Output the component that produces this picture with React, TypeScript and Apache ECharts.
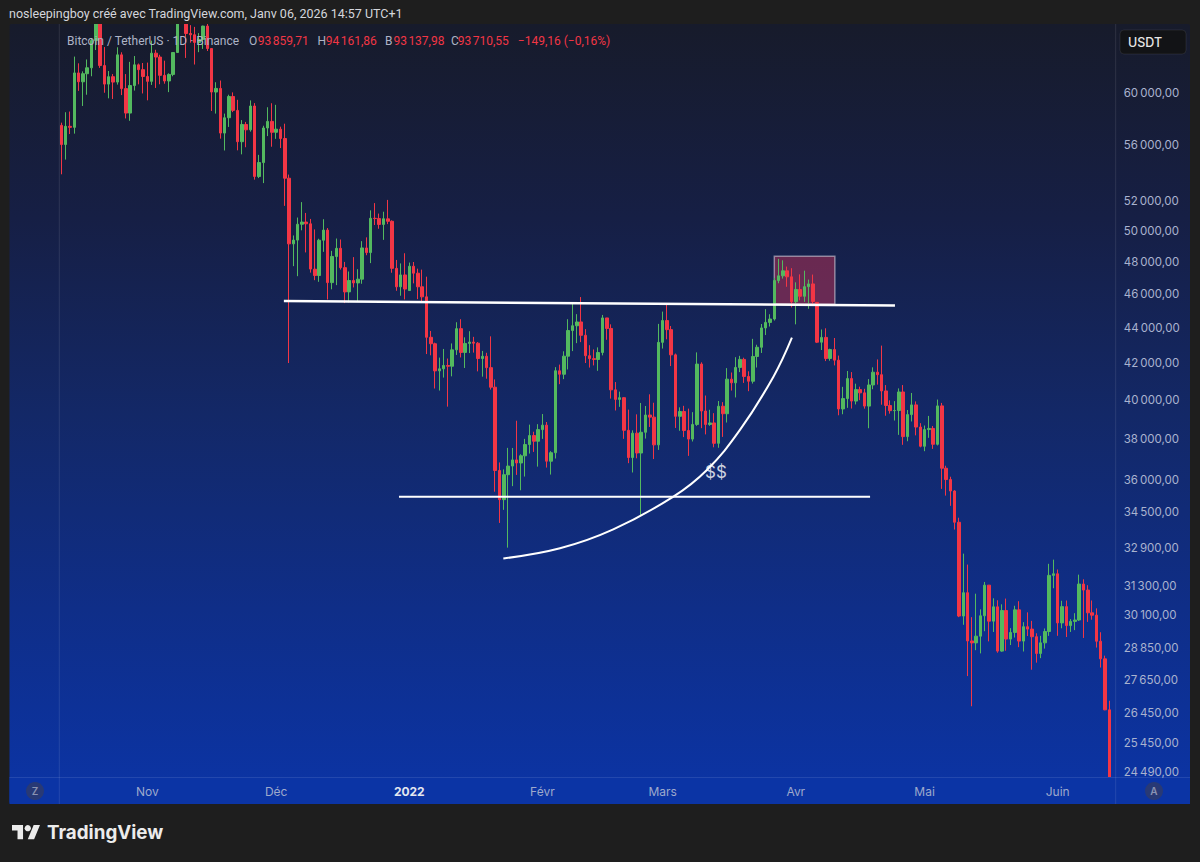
import React, { useEffect, useRef } from "react";
import * as echarts from "echarts";

// Daily BTC/USDT candles, each row [open, high, low, close]
const oct2021 = [
  [57474, 57680, 53879, 56041], [56041, 58478, 54936, 57401], [57401, 58532, 56818, 57321], [57321, 62933, 56850, 61593],
  [61593, 62378, 60150, 60875], [60875, 61718, 58963, 61528], [61528, 62695, 59844, 62010], [62010, 64486, 61322, 64280],
  [64280, 67000, 63481, 66002], [66002, 66639, 62000, 62193], [62193, 63732, 60000, 60689], [60689, 61747, 59562, 61287],
  [61287, 61500, 59510, 60852], [60852, 63711, 60650, 63079], [63079, 63293, 59817, 60329], [60329, 61497, 58000, 58413],
  [58413, 62499, 57820, 60575], [60575, 62980, 60174, 62253], [62253, 62359, 60673, 61859], [61859, 62405, 59945, 61300],
];
const nov2021 = [
  [61300, 62437, 59405, 60911], [60911, 64270, 60624, 63219], [63220, 63500, 60382, 62896], [62896, 63086, 60677, 61395],
  [61395, 62595, 60721, 60937], [60941, 61560, 60050, 61470], [61470, 63286, 61322, 63273], [63273, 67789, 63273, 67525],
  [67525, 68525, 66382, 66947], [66947, 69000, 62822, 64882], [64882, 65600, 64100, 64774], [64774, 65450, 62278, 64122],
  [64123, 64915, 63303, 64380], [64380, 65550, 63576, 65519], [65519, 66401, 63400, 63606], [63606, 63617, 58574, 60058],
  [60058, 60840, 58373, 60345], [60345, 60977, 56474, 56892], [56891, 58372, 55600, 58052], [58057, 59845, 57353, 59707],
  [59707, 60029, 58486, 58622], [58617, 59444, 55610, 56247], [56247, 57875, 55317, 57541], [57541, 57735, 55837, 57138],
  [57138, 59398, 57000, 58960], [58960, 59186, 53500, 53726], [53723, 55280, 53610, 54721], [54716, 57445, 53256, 57274],
  [57274, 58865, 56666, 57776], [57776, 59176, 55875, 56950],
];
const dec2021 = [
  [56950, 59053, 56458, 57184], [57184, 57375, 55777, 56480], [56485, 57600, 51680, 53601], [53601, 53859, 42000, 49152],
  [49152, 49699, 47727, 49396], [49397, 50890, 47100, 50441], [50441, 51936, 50039, 50588], [50589, 51200, 48600, 50471],
  [50471, 50797, 47320, 47545], [47535, 50100, 46852, 47140], [47140, 49485, 46751, 49389], [49389, 50777, 48638, 50053],
  [50053, 50189, 45672, 46702], [46702, 48700, 46290, 48343], [48336, 49500, 46547, 48864], [48864, 49436, 47511, 47632],
  [47633, 47995, 45456, 46131], [46134, 47392, 45500, 46834], [46834, 48300, 46406, 46681], [46681, 47537, 45558, 46914],
  [46914, 49328, 46630, 48889], [48887, 49576, 48421, 48588], [48588, 51375, 47920, 50839], [50839, 51869, 50390, 50821],
  [50822, 51156, 50142, 50429], [50429, 51281, 49412, 50809], [50802, 52088, 50449, 50640], [50640, 50704, 47313, 47589],
  [47588, 48120, 46201, 46444], [46444, 47900, 45900, 47179], [47178, 48548, 45678, 46306],
];
const jan2022 = [
  [46216, 47954, 46208, 47722], [47722, 47990, 46654, 47286], [47286, 47570, 45696, 46446], [46446, 47510, 45500, 45833],
  [45833, 47070, 42500, 43451], [43451, 43816, 42430, 43082], [43082, 43145, 40610, 41566], [41567, 42300, 40501, 41680],
  [41680, 42786, 41200, 41864], [41864, 42248, 39650, 41822], [41822, 43100, 41268, 42735], [42735, 44322, 42450, 43949],
  [43949, 44500, 42311, 42591], [42591, 43448, 41725, 43099], [43099, 43800, 42555, 43177], [43177, 43476, 42581, 43113],
  [43113, 43179, 41540, 42250], [42250, 42675, 41250, 42375], [42375, 42571, 41138, 41744], [41744, 43505, 40553, 40680],
  [40680, 41100, 35440, 36445], [36445, 36835, 34008, 35071], [35071, 36499, 34601, 36244], [36244, 37550, 32917, 36660],
  [36660, 37545, 35701, 36958], [36958, 38919, 36234, 36809], [36809, 37234, 35507, 37160], [37160, 38000, 36155, 37716],
  [37716, 38720, 37268, 38166], [38166, 38359, 37351, 37881], [37881, 38744, 36632, 38466],
];
const feb2022 = [
  [38466, 39265, 38000, 38694], [38694, 38855, 36586, 36896], [36896, 37387, 36250, 37311], [37311, 41772, 37026, 41574],
  [41571, 41913, 40843, 41382], [41382, 42656, 41116, 42380], [42380, 44500, 41645, 43840], [43839, 45492, 42666, 44118],
  [44118, 44798, 43117, 44338], [44339, 45821, 43174, 43565], [43565, 43920, 42000, 42407], [42407, 43000, 41748, 42244],
  [42244, 42760, 41867, 42197], [42197, 42876, 41570, 42586], [42586, 44751, 42427, 44575], [44575, 44579, 43307, 43961],
  [43961, 44200, 40073, 40538], [40538, 40959, 39450, 40031], [40031, 40444, 39639, 40122], [40122, 40150, 38000, 38431],
  [38431, 39494, 36800, 37075], [37075, 38429, 36350, 38286], [38286, 39249, 37036, 37296], [37296, 39843, 34322, 38332],
  [38332, 39683, 38014, 39214], [39214, 40300, 38600, 39105], [39105, 39855, 37000, 37699], [37699, 44225, 37450, 43160],
];
const mar2022 = [
  [43160, 44949, 42809, 44421], [44421, 45400, 43334, 43892], [43892, 44101, 41832, 42454], [42454, 42527, 38550, 39148],
  [39148, 39613, 38407, 39397], [39397, 39693, 38088, 38420], [38420, 39547, 37155, 37988], [37988, 39362, 37867, 38730],
  [38730, 42594, 38656, 41941], [41941, 42039, 38539, 39422], [39422, 40236, 38224, 38729], [38729, 39486, 38660, 38807],
  [38807, 39310, 37578, 37777], [37777, 39947, 37555, 39671], [39671, 39887, 38098, 39280], [39280, 41718, 38828, 41114],
  [41115, 41478, 40500, 40917], [40917, 42325, 40135, 41757], [41757, 42400, 41499, 42201], [42201, 42296, 40911, 41262],
  [41262, 41544, 40467, 41002], [41002, 43361, 40875, 42364], [42364, 43025, 41751, 42882], [42882, 44220, 42560, 43991],
  [43991, 45094, 43579, 44313], [44313, 44792, 44072, 44511], [44511, 46999, 44422, 46827], [46827, 48190, 46663, 47122],
  [47122, 48096, 46950, 47434], [47434, 47700, 46445, 47062], [47062, 47600, 45200, 45538],
];
const apr2022 = [
  [45539, 46720, 44200, 46281], [46281, 47213, 45620, 45868], [45868, 47444, 45530, 46453], [46453, 46890, 45118, 46622],
  [46622, 47200, 45353, 45555], [45497, 45507, 43121, 43170], [43170, 43900, 42727, 43444], [43444, 43970, 42107, 42252],
  [42252, 42800, 42125, 42753], [42753, 43410, 41868, 42158], [42158, 42414, 39200, 39530], [39530, 40699, 39254, 40074],
  [40074, 41561, 39588, 41147], [41147, 41500, 39551, 39942], [39942, 40870, 39766, 40552], [40552, 40709, 39991, 40378],
  [40378, 40595, 39546, 39678], [39678, 41116, 38536, 40801], [40801, 41760, 40571, 41493], [41493, 42199, 40820, 41358],
  [41358, 42976, 39751, 40480], [40480, 40795, 39177, 39709], [39709, 39980, 39285, 39441], [39441, 39940, 38929, 39450],
  [39450, 40616, 38200, 40426], [40426, 40797, 37702, 38112], [38112, 39474, 37881, 39235], [39235, 40372, 38881, 39742],
  [39742, 39925, 38175, 38596], [38596, 38795, 37578, 37630],
];
const may2022 = [
  [37630, 38675, 37386, 38468], [38468, 39167, 38052, 38525], [38525, 38651, 37500, 37729], [37729, 40023, 37670, 39690],
  [39690, 39845, 35571, 36553], [36553, 36675, 35258, 36013], [36013, 36146, 34785, 35472], [35472, 35510, 33713, 34038],
  [34038, 34243, 30033, 30076], [30076, 32658, 29730, 31017], [31017, 32190, 27785, 29103], [29103, 30032, 26700, 29029],
  [29029, 30976, 28751, 29287], [29287, 30343, 28630, 30086], [30086, 31460, 29480, 31328], [31328, 31328, 29087, 29874],
  [29874, 30788, 29450, 30444], [30444, 30709, 28654, 28716], [28716, 30545, 28691, 30296], [30296, 30777, 28730, 29175],
  [29175, 29600, 28947, 29432], [29432, 30487, 29235, 30323], [30323, 30670, 28866, 29098], [29098, 29834, 28701, 29655],
  [29655, 30223, 29294, 29562], [29562, 29886, 28019, 29267], [29267, 29400, 28282, 28628], [28628, 29300, 28450, 29031],
  [29031, 29587, 28811, 29468], [29468, 32222, 29299, 31734], [31734, 32400, 31200, 31801],
];
const jun2022 = [
  [31801, 31982, 29301, 29805], [29805, 30689, 29594, 30452], [30452, 30699, 29255, 29700], [29700, 29955, 29451, 29864],
  [29864, 30189, 29522, 29919], [29919, 31765, 29880, 31373], [31373, 31570, 29218, 31125], [31125, 31326, 29844, 30205],
  [30205, 30700, 29930, 30110], [30110, 30383, 28850, 29092], [29092, 29440, 28100, 28424], [28424, 28544, 26560, 26574],
  [26574, 26895, 22600, 22487],
];

const firstDay = "2021-10-12";
const trailingEmptyDays = 1;

// month label text by month number (January shows the year)
const monthLabels: Record<number, string> = {
  1: "YEAR", 2: "Févr", 3: "Mars", 4: "Avr", 5: "Mai", 6: "Juin",
  7: "Juil", 8: "Août", 9: "Sept", 10: "Oct", 11: "Nov", 12: "Déc",
};

// price-axis tick labels
const priceTicks = [60000, 56000, 52000, 50000, 48000, 46000, 44000, 42000, 40000, 38000,
  36000, 34500, 32900, 31300, 30100, 28850, 27650, 26450, 25450, 24490];
const priceMin = 24320;
const priceMax = 65700;

// annotations, in [day index from first candle, price]
const resistanceLine = [[51.8, 45580], [194.1, 45310]];
const supportLine = [[78.6, 35210], [188.3, 35210]];
const curvePoints = [[102.9, 32450], [116.1, 32890], [128.5, 33720], [142.5, 35210], [150.3, 36470],
  [158.0, 38450], [165.8, 41250], [170.1, 43430]];
const boxCorners = [[166.0, 48350], [180.1, 45380]];
const dollarNote = [152.4, 36370];

const UP = "#53b95f";
const DOWN = "#f23645";
const FONT = "Inter, 'Noto Sans', sans-serif";
const FONT2 = "Roboto, 'Noto Sans', sans-serif";

const fmtPrice = (v: number) =>
  Math.round(v).toString().replace(/\B(?=(\d{3})+(?!\d))/g, "\u202f") + ",00";

export default function App() {
  const ref = useRef<HTMLDivElement>(null);

  useEffect(() => {
    if (!ref.current) return;
    const chart = echarts.init(ref.current, undefined, { renderer: "svg" });

    const ohlc = [...oct2021, ...nov2021, ...dec2021, ...jan2022, ...feb2022, ...mar2022, ...apr2022, ...may2022, ...jun2022];
    const t0 = Date.parse(firstDay + "T00:00:00Z");
    const categories: string[] = ohlc.map((_, i) => new Date(t0 + i * 86400000).toISOString().slice(0, 10));
    for (let k = 0; k < trailingEmptyDays; k++) categories.push("");
    const nCat = categories.length;
    const candleData = ohlc.map(([o, h, l, c]) => [o, c, l, h]);

    const gridLeft = 59.3, gridRight = 1115.7, gridTop = 24, gridBottom = 777;

    const bg = new echarts.graphic.LinearGradient(0, 0, 0, 1, [
      { offset: 0, color: "#171b2b" },
      { offset: 0.25, color: "#161f45" },
      { offset: 0.5, color: "#132867" },
      { offset: 0.75, color: "#0f2e88" },
      { offset: 1, color: "#0b34a6" },
    ]);

    const divider = "rgba(255,255,255,0.10)";
    const legendY = 41;
    const legendParts: [number, string, string][] = [
      [67, "Bitcoin / TetherUS · 1D · Binance", "#aeb4c6"],
      [249, "O", "#aeb4c6"], [257.7, "93\u202f859,71", DOWN],
      [317.4, "H", "#aeb4c6"], [325.7, "94\u202f161,86", DOWN],
      [385, "B", "#aeb4c6"], [393.4, "93\u202f137,98", DOWN],
      [451, "C", "#aeb4c6"], [457.7, "93\u202f710,55", DOWN],
      [517.8, "\u2212149,16 (\u22120,16%)", DOWN],
    ];

    const s = 28 / 35.5;
    const lx = 12, ly = 825 - 4 * s;
    const P = (x: number, y: number) => [lx + x * s, ly + y * s];

    const graphics: any[] = [
      { type: "rect", z: -5, silent: true, shape: { x: 9.5, y: gridTop, width: 1180.5, height: 804 - gridTop, r: 2 }, style: { fill: bg } },
      // covers that trim candles overflowing the plot
      { type: "rect", z: 8, silent: true, shape: { x: 0, y: 0, width: 1200, height: gridTop }, style: { fill: "#1e1e1e" } },
      { type: "rect", z: 8, silent: true, shape: { x: 9.5, y: gridBottom, width: 1180.5, height: 804 - gridBottom }, style: { fill: "#0b34a5" } },
      { type: "rect", z: 8, silent: true, shape: { x: 0, y: 804, width: 1200, height: 58 }, style: { fill: "#1e1e1e" } },
      { type: "line", z: 9, silent: true, shape: { x1: gridLeft, y1: gridTop, x2: gridLeft, y2: 804 }, style: { stroke: divider, lineWidth: 1 } },
      { type: "line", z: 9, silent: true, shape: { x1: gridRight, y1: gridTop, x2: gridRight, y2: 804 }, style: { stroke: divider, lineWidth: 1 } },
      { type: "line", z: 9, silent: true, shape: { x1: 9.5, y1: gridBottom + 0.5, x2: 1190, y2: gridBottom + 0.5 }, style: { stroke: divider, lineWidth: 1 } },
      { type: "circle", z: 10, silent: true, shape: { cx: 35, cy: 791, r: 9 }, style: { fill: "rgba(60,62,85,0.6)" } },
      { type: "text", z: 11, silent: true, x: 35, y: 791, style: { text: "Z", fill: "#8a93b3", font: `600 10px ${FONT}`, align: "center", verticalAlign: "middle" } },
      { type: "circle", z: 10, silent: true, shape: { cx: 1154, cy: 791, r: 9 }, style: { fill: "rgba(60,62,85,0.6)" } },
      { type: "text", z: 11, silent: true, x: 1154, y: 791, style: { text: "A", fill: "#8a93b3", font: `600 10px ${FONT}`, align: "center", verticalAlign: "middle" } },
      { type: "rect", z: 10, silent: true, shape: { x: 1120, y: 30, width: 66, height: 24, r: 4 }, style: { fill: "#121316", stroke: "rgba(255,255,255,0.08)", lineWidth: 1 } },
      { type: "text", z: 11, silent: true, x: 1128, y: 42, style: { text: "USDT", fill: "#e6e6e6", font: `500 12.5px ${FONT}`, verticalAlign: "middle" } },
      { type: "text", z: 11, silent: true, x: 9, y: 13, style: { text: "nosleepingboy créé avec TradingView.com, Janv 06, 2026 14:57 UTC+1", fill: "#d4d6dc", font: `12.5px ${FONT2}`, verticalAlign: "middle" } },
      ...legendParts.map(([x, t, c]) => ({
        type: "text", z: 11, silent: true, x, y: legendY,
        style: { text: t, fill: c, font: `12px ${FONT2}`, verticalAlign: "middle" },
      })),
      { type: "polygon", z: 11, silent: true, shape: { points: [P(0, 4), P(14, 4), P(14, 22), P(7, 22), P(7, 11), P(0, 11)] }, style: { fill: "#ececec" } },
      { type: "polygon", z: 11, silent: true, shape: { points: [P(20, 22), P(27.5, 4), P(35.5, 4), P(28, 22)] }, style: { fill: "#ececec" } },
      { type: "circle", z: 11, silent: true, shape: { cx: lx + 20 * s, cy: ly + 8 * s, r: 4 * s }, style: { fill: "#ececec" } },
      { type: "text", z: 11, silent: true, x: 47, y: 832.5, style: { text: "TradingView", fill: "#ececec", font: `bold 18.8px ${FONT}`, verticalAlign: "middle" } },
    ];

    chart.setOption({
      animation: false,
      backgroundColor: "transparent",
      grid: { left: gridLeft, right: 1200 - gridRight, top: gridTop, bottom: 862 - gridBottom, containLabel: false },
      xAxis: [
        {
          type: "category",
          data: categories,
          boundaryGap: true,
          z: 12,
          axisLine: { show: false },
          axisTick: { show: false },
          splitLine: { show: false },
          axisLabel: {
            interval: (_i: number, v: string) => !!v && v.endsWith("-01"),
            formatter: (v: string) => {
              if (!v) return "";
              const m = Number(v.slice(5, 7));
              if (m === 1) return "{y|" + v.slice(0, 4) + "}";
              return monthLabels[m];
            },
            color: "#9ea9cc",
            fontSize: 12,
            fontFamily: FONT,
            margin: 8,
            rich: { y: { color: "#e4e7ef", fontWeight: "bold", fontSize: 12, fontFamily: FONT } },
          },
        },
        { type: "value", min: -0.5, max: nCat - 0.5, show: false },
      ],
      yAxis: {
        type: "log",
        position: "right",
        min: priceMin,
        max: priceMax,
        z: 12,
        axisLine: { show: false },
        axisTick: { show: false },
        splitLine: { show: false },
        axisLabel: {
          customValues: priceTicks,
          formatter: (v: number) => fmtPrice(v),
          color: "#aab3cf",
          fontSize: 11.5,
          fontFamily: FONT,
          margin: 8,
        },
      },
      series: [
        {
          type: "line",
          xAxisIndex: 1,
          data: boxCorners,
          symbol: "none",
          lineStyle: { opacity: 0 },
          z: 1,
          silent: true,
          markArea: {
            silent: true,
            itemStyle: { color: "rgba(190,50,85,0.5)", borderColor: "rgba(215,215,225,0.55)", borderWidth: 1.5 },
            data: [[{ coord: boxCorners[0] }, { coord: boxCorners[1] }]],
          },
        },
        {
          type: "candlestick",
          data: candleData,
          barWidth: 3,
          clip: true,
          z: 2,
          silent: true,
          itemStyle: { color: UP, color0: DOWN, borderColor: UP, borderColor0: DOWN, borderWidth: 1 },
        },
        { type: "line", xAxisIndex: 1, data: resistanceLine, symbol: "none", silent: true, z: 4, lineStyle: { color: "#ffffff", width: 2.5 } },
        { type: "line", xAxisIndex: 1, data: supportLine, symbol: "none", silent: true, z: 4, lineStyle: { color: "#ffffff", width: 2 } },
        { type: "line", xAxisIndex: 1, data: curvePoints, symbol: "none", smooth: 0.4, silent: true, z: 4, lineStyle: { color: "#ffffff", width: 2 } },
        {
          type: "scatter",
          xAxisIndex: 1,
          data: [dollarNote],
          symbolSize: 1,
          silent: true,
          z: 4,
          itemStyle: { color: "transparent" },
          label: { show: true, position: "inside", formatter: "$$", color: "#ffffff", fontSize: 17, fontFamily: FONT },
        },
      ],
      graphic: { elements: graphics },
    });

    return () => chart.dispose();
  }, []);

  return (
    <div style={{ position: "absolute", left: 0, top: 0, width: 1200, height: 862, background: "#1e1e1e" }}>
      <div ref={ref} style={{ width: 1200, height: 862 }} />
    </div>
  );
}
